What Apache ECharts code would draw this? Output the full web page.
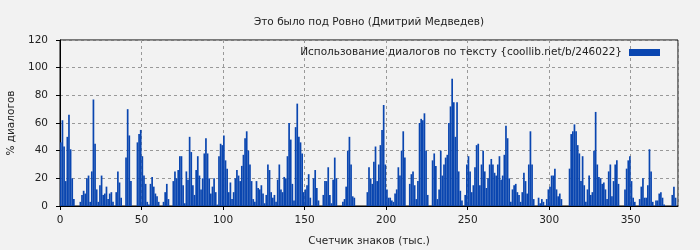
<!DOCTYPE html>
<html>
<head>
<meta charset="utf-8">
<script src="https://cdn.jsdelivr.net/npm/echarts@6/dist/echarts.min.js"></script>
<style>html,body{margin:0;padding:0;background:#f2f2f2;}#c{width:700px;height:250px;}</style>
</head>
<body>
<div id="c"></div>
<script>
const titleText = 'Это было под Ровно (Дмитрий Медведев)';
const seriesName = 'Использование диалогов по тексту {coollib.net/b/246022}';
const xName = 'Счетчик знаков (тыс.)';
const yName = '% диалогов';
const xTicks = [0, 50, 100, 150, 200, 250, 300, 350];
const yTicks = [0, 20, 40, 60, 80, 100, 120];
const values = [
46,62,43,18,50,66,41,20,5,0,0,0,3,8,11,9,20,22,3,25,
77,45,12,3,15,22,8,9,14,5,9,10,3,0,10,25,17,6,0,0,
35,70,51,18,0,0,0,46,52,55,36,22,16,3,1,16,21,14,9,7,
3,0,0,3,10,16,5,0,0,18,25,20,26,36,36,15,2,25,19,50,
39,15,8,26,36,22,12,20,38,49,38,20,9,14,20,10,1,36,45,44,
51,33,27,10,17,5,10,20,26,22,18,29,37,49,54,40,30,18,5,3,
18,13,12,15,9,2,8,30,26,10,6,8,3,19,30,12,10,21,20,36,
60,48,16,4,57,74,50,46,38,10,12,15,23,6,0,20,26,13,4,0,
0,8,18,18,28,8,2,19,35,20,0,0,0,3,5,14,40,50,30,7,
6,0,0,0,0,0,0,0,10,28,20,16,32,43,18,30,44,55,73,30,
12,6,6,4,3,9,12,28,22,40,54,35,0,0,16,23,25,15,5,18,
60,63,62,67,40,8,0,0,33,38,29,5,12,40,22,30,35,37,60,72,
92,75,50,75,25,11,4,0,8,30,36,25,10,15,28,44,45,15,30,40,
25,13,20,30,34,30,24,22,30,36,19,22,37,58,49,20,3,12,15,16,
10,8,3,10,24,18,9,30,54,30,5,0,0,6,2,5,3,0,5,12,
14,22,22,27,12,7,9,5,0,0,0,0,27,52,54,59,54,44,38,18,
36,15,3,12,22,8,10,40,68,30,21,20,16,17,12,5,25,30,7,18,
30,33,16,0,0,0,12,27,33,36,18,6,3,0,0,5,14,20,6,6,
15,41,25,3,0,4,4,9,10,6,1,0,0,0,0,8,14,6,0
];
const xMax = values.length;
const data = values.map((v, i) => [i + 0.5, v]);

const chart = echarts.init(document.getElementById('c'), null, {renderer: 'canvas'});
const font = 'DejaVu Sans';
const fs = 10.5;
chart.setOption({
  backgroundColor: '#f2f2f2',
  animation: false,
  textStyle: {fontFamily: font},
  title: {
    text: titleText,
    left: 364, top: 12, textAlign: 'center',
    textStyle: {fontFamily: font, fontSize: fs, fontWeight: 'normal', color: '#222'}
  },
  legend: {
    data: [seriesName],
    right: 35, top: 42,
    align: 'right',
    icon: 'rect', itemWidth: 31, itemHeight: 7, itemGap: 8,
    textStyle: {fontFamily: font, fontSize: fs, color: '#222', padding: [0, 2, 0, 0]}
  },
  grid: {
    left: 60, right: 22, top: 40, bottom: 44,
    containLabel: false, outerBoundsMode: 'none',
    show: true, borderColor: '#000', borderWidth: 1, backgroundColor: 'transparent'
  },
  xAxis: {
    type: 'value', min: 0, max: xMax, interval: 50,
    name: xName, nameLocation: 'middle', nameGap: 30,
    nameTextStyle: {fontFamily: font, fontSize: fs, color: '#222'},
    axisLine: {show: true, lineStyle: {color: '#000', width: 1}},
    axisTick: {show: true, length: 4, lineStyle: {color: '#000'}},
    axisLabel: {
      fontFamily: font, fontSize: fs, color: '#222', margin: 9, showMaxLabel: false,
      formatter: v => (xTicks.indexOf(v) >= 0 ? String(v) : '')
    },
    splitLine: {show: true, lineStyle: {color: '#999', type: [3, 3], width: 1}}
  },
  yAxis: {
    type: 'value', min: 0, max: 120, interval: 20,
    name: yName, nameLocation: 'middle', nameGap: 43, nameRotate: 90,
    nameTextStyle: {fontFamily: font, fontSize: fs, color: '#222'},
    axisLine: {show: true, lineStyle: {color: '#000', width: 1}},
    axisTick: {show: true, length: 4, lineStyle: {color: '#000'}},
    axisLabel: {
      fontFamily: font, fontSize: fs, color: '#222', margin: 12,
      formatter: v => (yTicks.indexOf(v) >= 0 ? String(v) : '')
    },
    splitLine: {show: true, lineStyle: {color: '#999', type: [3, 3], width: 1}}
  },
  series: [{
    name: seriesName,
    type: 'bar',
    data: data,
    barWidth: 1.7,
    itemStyle: {color: '#0a46b0'},
    large: false
  }]
});
</script>
</body>
</html>
